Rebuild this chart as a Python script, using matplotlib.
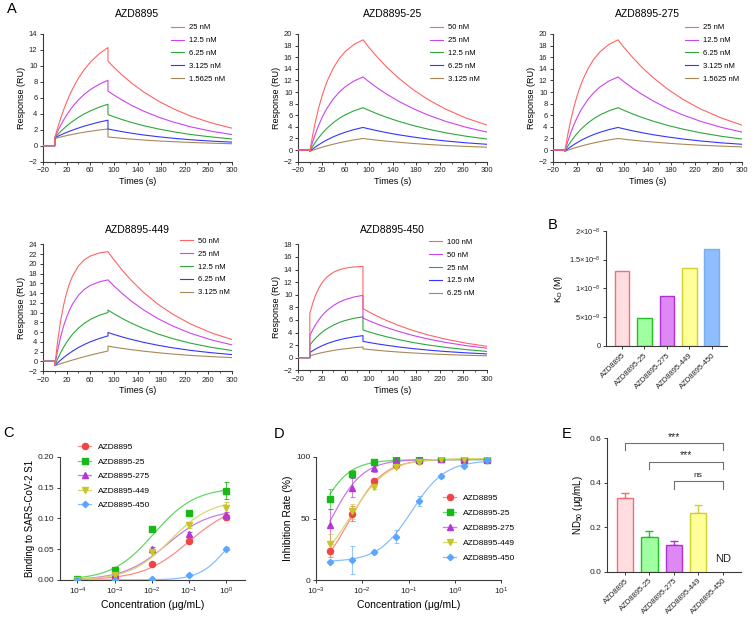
import numpy as np
import matplotlib
matplotlib.use("Agg")
import matplotlib.pyplot as plt
from matplotlib.lines import Line2D
from matplotlib.ticker import NullLocator, FixedFormatter, FixedLocator

plt.rcParams['font.family'] = ['Liberation Sans', 'DejaVu Sans']
plt.rcParams['mathtext.fontset'] = 'custom'
plt.rcParams['mathtext.rm'] = 'Liberation Sans'
plt.rcParams['mathtext.it'] = 'Liberation Sans:italic'
plt.rcParams['mathtext.bf'] = 'Liberation Sans:bold'
plt.rcParams['mathtext.default'] = 'regular'
plt.rcParams['axes.linewidth'] = 0.8

W, H = 754, 623

# ---------------- A: SPR sensorgrams ----------------
T_ASSOC = [0, 5, 10, 15, 20, 25, 30, 40, 50, 60, 75, 90]
T_DISS = [90, 100, 115, 130, 150, 175, 200, 230, 265, 300]

spr_titles = ['AZD8895', 'AZD8895-25', 'AZD8895-275', 'AZD8895-449', 'AZD8895-450']
spr_labels = [
    ['25 nM', '12.5 nM', '6.25 nM', '3.125 nM', '1.5625 nM'],
    ['50 nM', '25 nM', '12.5 nM', '6.25 nM', '3.125 nM'],
    ['25 nM', '12.5 nM', '6.25 nM', '3.125 nM', '1.5625 nM'],
    ['50 nM', '25 nM', '12.5 nM', '6.25 nM', '3.125 nM'],
    ['100 nM', '50 nM', '25 nM', '12.5 nM', '6.25 nM'],
]
spr_ytop = [14, 20, 20, 24, 18]

azd8895_assoc = [
    [1.0, 2.29, 3.45, 4.51, 5.46, 6.33, 7.11, 8.46, 9.56, 10.46, 11.52, 12.3],
    [1.0, 1.82, 2.56, 3.24, 3.84, 4.39, 4.89, 5.75, 6.45, 7.03, 7.70, 8.2],
    [1.0, 1.41, 1.79, 2.14, 2.47, 2.77, 3.05, 3.56, 3.99, 4.36, 4.83, 5.2],
    [1.0, 1.18, 1.35, 1.52, 1.67, 1.82, 1.96, 2.22, 2.46, 2.67, 2.96, 3.2],
    [0.9, 1.00, 1.09, 1.18, 1.27, 1.35, 1.42, 1.57, 1.70, 1.81, 1.97, 2.1],
]
azd8895_diss = [
    [10.6, 9.83, 8.79, 7.85, 6.76, 5.61, 4.65, 3.71, 2.86, 2.2],
    [6.85, 6.35, 5.67, 5.06, 4.35, 3.60, 2.98, 2.37, 1.82, 1.4],
    [3.9, 3.63, 3.25, 2.92, 2.52, 2.11, 1.76, 1.41, 1.10, 0.85],
    [2.1, 1.95, 1.75, 1.57, 1.35, 1.13, 0.94, 0.75, 0.58, 0.45],
    [1.1, 1.03, 0.92, 0.83, 0.72, 0.60, 0.51, 0.41, 0.32, 0.25],
]
azd25_assoc = [
    [-0.2, 2.67, 5.14, 7.26, 9.09, 10.66, 12.02, 14.18, 15.79, 16.98, 18.21, 19.0],
    [-0.2, 1.48, 2.97, 4.27, 5.43, 6.45, 7.35, 8.84, 10.01, 10.92, 11.91, 12.6],
    [-0.2, 0.66, 1.43, 2.13, 2.76, 3.34, 3.85, 4.75, 5.48, 6.08, 6.78, 7.3],
    [-0.2, 0.20, 0.57, 0.92, 1.23, 1.53, 1.81, 2.30, 2.72, 3.08, 3.54, 3.9],
    [-0.2, -0.02, 0.15, 0.32, 0.47, 0.62, 0.76, 1.02, 1.26, 1.47, 1.76, 2.0],
]
azd25_diss = [
    [19.0, 17.70, 15.92, 14.31, 12.43, 10.41, 8.72, 7.05, 5.51, 4.3],
    [12.6, 11.79, 10.66, 9.65, 8.44, 7.14, 6.05, 4.95, 3.92, 3.1],
    [7.3, 6.85, 6.22, 5.65, 4.97, 4.23, 3.61, 2.98, 2.38, 1.9],
    [3.9, 3.66, 3.32, 3.01, 2.64, 2.25, 1.91, 1.57, 1.25, 1.0],
    [2.0, 1.87, 1.70, 1.54, 1.35, 1.14, 0.97, 0.79, 0.63, 0.5],
]
azd275_assoc = [
    [-0.2, 2.65, 5.12, 7.24, 9.08, 10.65, 12.01, 14.17, 15.79, 16.98, 18.22, 19.0],
    [-0.2, 1.47, 2.96, 4.26, 5.42, 6.44, 7.34, 8.83, 10.0, 10.92, 11.91, 12.6],
    [-0.2, 0.66, 1.43, 2.13, 2.76, 3.34, 3.85, 4.75, 5.48, 6.08, 6.78, 7.3],
    [-0.2, 0.20, 0.57, 0.92, 1.23, 1.53, 1.81, 2.30, 2.72, 3.08, 3.54, 3.9],
    [-0.2, -0.02, 0.15, 0.32, 0.47, 0.62, 0.76, 1.02, 1.26, 1.47, 1.76, 2.0],
]
azd275_diss = [
    [19.0, 17.71, 15.94, 14.33, 12.45, 10.43, 8.74, 7.07, 5.53, 4.3],
    [12.6, 11.79, 10.66, 9.65, 8.44, 7.14, 6.05, 4.95, 3.92, 3.1],
    [7.3, 6.85, 6.22, 5.65, 4.97, 4.23, 3.61, 2.98, 2.38, 1.9],
    [3.9, 3.66, 3.32, 3.01, 2.64, 2.25, 1.91, 1.57, 1.25, 1.0],
    [2.0, 1.87, 1.71, 1.56, 1.38, 1.18, 1.01, 0.84, 0.68, 0.55],
]
azd449_assoc = [
    [-0.9, 4.33, 8.41, 11.58, 14.06, 15.98, 17.48, 19.56, 20.82, 21.59, 22.21, 22.5],
    [-0.9, 2.38, 5.07, 7.26, 9.07, 10.54, 11.74, 13.54, 14.75, 15.55, 16.29, 16.7],
    [-0.9, 0.53, 1.80, 2.91, 3.90, 4.76, 5.53, 6.80, 7.79, 8.57, 9.42, 10.0],
    [-0.9, -0.30, 0.25, 0.76, 1.23, 1.67, 2.08, 2.82, 3.44, 3.99, 4.66, 5.2],
    [-0.9, -0.70, -0.50, -0.30, -0.11, 0.07, 0.25, 0.60, 0.93, 1.25, 1.69, 2.1],
]
azd449_diss = [
    [22.5, 20.83, 18.56, 16.53, 14.16, 11.68, 9.63, 7.64, 5.83, 4.45],
    [16.7, 15.47, 13.80, 12.30, 10.56, 8.72, 7.21, 5.73, 4.39, 3.36],
    [10.5, 9.75, 8.72, 7.80, 6.72, 5.58, 4.63, 3.70, 2.85, 2.2],
    [5.9, 5.50, 4.96, 4.47, 3.89, 3.27, 2.75, 2.23, 1.75, 1.37],
    [3.1, 2.90, 2.62, 2.37, 2.07, 1.75, 1.47, 1.20, 0.95, 0.75],
]
azd450_assoc = [
    [7.0, 8.68, 9.98, 11.0, 11.79, 12.41, 12.89, 13.56, 13.96, 14.21, 14.41, 14.5],
    [3.5, 4.46, 5.28, 5.99, 6.60, 7.12, 7.57, 8.29, 8.83, 9.23, 9.64, 9.9],
    [2.0, 2.59, 3.11, 3.57, 3.98, 4.34, 4.65, 5.18, 5.59, 5.91, 6.26, 6.5],
    [0.8, 1.11, 1.39, 1.64, 1.87, 2.07, 2.26, 2.58, 2.84, 3.06, 3.31, 3.5],
    [0.3, 0.44, 0.56, 0.68, 0.79, 0.89, 0.98, 1.15, 1.30, 1.42, 1.58, 1.7],
]
azd450_diss = [
    [7.8, 7.27, 6.55, 5.90, 5.13, 4.31, 3.62, 2.94, 2.30, 1.8],
    [6.3, 5.88, 5.31, 4.79, 4.18, 3.52, 2.97, 2.42, 1.91, 1.5],
    [4.4, 4.10, 3.69, 3.32, 2.88, 2.41, 2.02, 1.64, 1.28, 1.0],
    [2.6, 2.42, 2.18, 1.97, 1.71, 1.44, 1.21, 0.98, 0.77, 0.6],
    [1.4, 1.30, 1.17, 1.04, 0.90, 0.75, 0.62, 0.50, 0.39, 0.3],
]
spr_assoc = [azd8895_assoc, azd25_assoc, azd275_assoc, azd449_assoc, azd450_assoc]
spr_diss = [azd8895_diss, azd25_diss, azd275_diss, azd449_diss, azd450_diss]
SPR_COLORS = ['#FF6464', '#CC44EE', '#2EA83A', '#3535FF', '#A8875A']

# ---------------- B: KD ----------------
names = ['AZD8895', 'AZD8895-25', 'AZD8895-275', 'AZD8895-449', 'AZD8895-450']
kd = [1.30e-8, 0.48e-8, 0.86e-8, 1.36e-8, 1.69e-8]
BAR_FILL = ['#FFDDE0', '#A0FFA0', '#DD88F5', '#FFFF99', '#8FBDFF']
BAR_EDGE = ['#F07070', '#22C022', '#B030D0', '#D0D030', '#78AEF2']

# ---------------- C: ELISA binding ----------------
c_conc = [1e-4, 1e-3, 1e-2, 1e-1, 1]
c_vals = [
    [0.000, 0.004, 0.026, 0.064, 0.102],
    [0.001, 0.016, 0.083, 0.108, 0.145],
    [0.000, 0.009, 0.051, 0.075, 0.105],
    [0.000, 0.008, 0.045, 0.089, 0.116],
    [0.000, 0.000, 0.001, 0.008, 0.051],
]
c_err = [
    [0.000, 0.001, 0.002, 0.003, 0.004],
    [0.001, 0.002, 0.002, 0.003, 0.014],
    [0.000, 0.001, 0.003, 0.003, 0.006],
    [0.000, 0.001, 0.002, 0.004, 0.010],
    [0.000, 0.000, 0.001, 0.001, 0.002],
]
# 4PL fit parameters
c_bottom = [0, 0, 0, 0, 0]
c_top = [0.125, 0.15, 0.115, 0.13, 0.10]
c_logec50 = [-1.0, -1.95, -1.6, -1.5, 0.0]
c_hill = [0.7, 0.78, 0.75, 0.8, 1.2]

# ---------------- D: neutralization ----------------
d_conc = [0.002, 0.006, 0.018, 0.055, 0.167, 0.51, 1.58, 4.9]
d_vals = [
    [24, 54, 80.5, 93, 96.5, 98, 97.6, 97.6],
    [66, 86, 95.5, 97.3, 98, 98.3, 97.3, 97.3],
    [45, 75, 90.5, 96.8, 97.5, 98, 98, 98],
    [29.5, 56, 75.5, 92, 96, 98, 98.5, 98.5],
    [15, 16.5, 22.5, 35.3, 64, 84, 92.7, 97],
]
d_err = [
    [5, 6, 2, 1, 1, 1, 1, 1],
    [8, 3, 1, 1, 1, 1, 1, 1],
    [13, 8, 3, 1, 1, 1, 1, 1],
    [8, 6, 2, 1, 1, 1, 1, 1],
    [1, 11, 1, 5, 4, 1, 1, 1],
]
d_bottom = [0, 0, 0, 5, 15]
d_top = [97.8, 97.6, 97.8, 98.5, 97]
d_logec50 = [-2.27, -3.0, -2.68, -2.25, -0.93]
d_hill = [1.2, 1.3, 1.25, 1.1, 1.2]

# ---------------- E: ND50 ----------------
nd50 = [0.33, 0.155, 0.12, 0.265]
nd50_err = [0.026, 0.026, 0.017, 0.035]

MARK_COL = ['#F04545', '#18B818', '#B535D5', '#C6C62A', '#5AA5FF']
FIT_COL = ['#FF8A8A', '#66D466', '#CB7AE6', '#D8D86E', '#86BEFF']
MARKERS = ['o', 's', '^', 'v', 'D']
MSIZE = [4.4, 4.4, 4.4, 4.4, 3.2]

fig = plt.figure(figsize=(W / 100, H / 100), dpi=100)


def axes_px(left, top, right, bottom):
    return fig.add_axes([left / W, 1 - bottom / H, (right - left) / W, (bottom - top) / H])


def prism(ax, fs=5.5):
    for s in ('top', 'right'):
        ax.spines[s].set_visible(False)
    for s in ('left', 'bottom'):
        ax.spines[s].set_color('#3a3a3a')
    ax.tick_params(direction='out', length=2.5, width=0.7, labelsize=fs, pad=1.5,
                   colors='#3a3a3a', labelcolor='#222222')
    ax.tick_params(which='minor', direction='out', length=1.6, width=0.6, colors='#3a3a3a')


def four_pl(x, bottom, top, logec50, hill):
    return bottom + (top - bottom) / (1 + 10 ** (hill * (logec50 - np.log10(x))))


# A panels: (left, top, right, bottom) in px, legend anchor, title pad
spr_boxes = [(43, 34, 232, 161.7), (298, 34, 487, 161.7), (553, 34, 742, 161.7),
             (43, 244.3, 232, 371), (298, 244.3, 487, 370.3)]
spr_leg = [(171, 24), (430, 24), (685, 24), (180, 237.5), (429, 238.5)]
spr_pad = [12.5, 12.5, 12.5, 8.4, 8.4]

for k in range(5):
    ax = axes_px(*spr_boxes[k])
    prism(ax)
    handles = []
    for i in range(5):
        t = [-20, 0] + T_ASSOC + T_DISS
        y = [0, 0] + spr_assoc[k][i] + spr_diss[k][i]
        h, = ax.plot(t, y, color=SPR_COLORS[i], lw=0.8, zorder=10 - i)
        handles.append(h)
    ax.set_xlim(-20, 300)
    ax.set_ylim(-2, spr_ytop[k])
    ax.set_xticks(range(-20, 301, 40))
    ax.set_xticks(range(0, 300, 40), minor=True)
    ax.set_yticks(range(-2, spr_ytop[k] + 1, 2))
    ax.set_title(spr_titles[k], fontsize=7.5, pad=spr_pad[k])
    ax.set_xlabel('Times (s)', fontsize=6.5, labelpad=2)
    ax.set_ylabel('Response (RU)', fontsize=6.5, labelpad=2)
    lx, ly = spr_leg[k]
    ax.legend(handles, spr_labels[k], loc='upper left', bbox_to_anchor=(lx / W, 1 - ly / H),
              bbox_transform=fig.transFigure, frameon=False, fontsize=5.5, handlelength=1.7,
              handletextpad=0.7, labelspacing=0.72, borderpad=0, borderaxespad=0)

# B
ax = axes_px(606, 230.7, 727, 346)
prism(ax)
xb = np.arange(len(names))
ax.bar(xb, kd, width=0.65, color=BAR_FILL, edgecolor=BAR_EDGE, linewidth=1.0)
ax.set_xlim(-0.71, 4.68)
ax.set_ylim(0, 2e-8)
ax.yaxis.set_major_locator(FixedLocator([0, 5e-9, 1e-8, 1.5e-8, 2e-8]))
ax.yaxis.set_major_formatter(FixedFormatter(['0', '5×10$^{-9}$', '1×10$^{-8}$',
                                             '1.5×10$^{-8}$', '2×10$^{-8}$']))
ax.set_xticks(xb)
ax.set_xticklabels(names, rotation=45, ha='right', rotation_mode='anchor', fontsize=5.5)
ax.set_ylabel('K$_D$ (M)', fontsize=6.5, labelpad=3)

# C
ax = axes_px(60, 456.7, 245, 580)
prism(ax, fs=6)
ax.set_xscale('log')
xs = np.logspace(-4, 0, 200)
handles = []
for i in range(5):
    ax.plot(xs, four_pl(xs, c_bottom[i], c_top[i], c_logec50[i], c_hill[i]),
            color=FIT_COL[i], lw=0.9, zorder=2)
    ax.errorbar(c_conc, c_vals[i], yerr=c_err[i], fmt='none', ecolor=MARK_COL[i],
                elinewidth=0.8, capsize=1.8, capthick=0.8, alpha=0.8, zorder=3)
    ax.plot(c_conc, c_vals[i], MARKERS[i], color=MARK_COL[i], ms=MSIZE[i], zorder=4)
    handles.append(Line2D([], [], color=FIT_COL[i], lw=0.9, marker=MARKERS[i],
                          mfc=MARK_COL[i], mec=MARK_COL[i], ms=MSIZE[i]))
ax.set_xlim(10 ** -4.47, 10 ** 0.5)
ax.set_ylim(0, 0.2)
ax.set_xticks(c_conc)
ax.xaxis.set_minor_locator(NullLocator())
ax.set_yticks([0, 0.05, 0.10, 0.15, 0.20])
ax.set_yticklabels(['0.00', '0.05', '0.10', '0.15', '0.20'])
ax.set_xlabel('Concentration (μg/mL)', fontsize=7.5, labelpad=2)
ax.set_ylabel('Binding to SARS-CoV-2 S1', fontsize=7, labelpad=2)
ax.legend(handles, names, loc='upper left', bbox_to_anchor=(78 / W, 1 - 443.5 / H),
          bbox_transform=fig.transFigure, frameon=False, fontsize=6, handlelength=1.6,
          handletextpad=0.8, labelspacing=0.8, borderpad=0, borderaxespad=0)

# D
ax = axes_px(316, 456.7, 501, 580.3)
prism(ax, fs=6)
ax.set_xscale('log')
xs = np.logspace(np.log10(d_conc[0]), np.log10(d_conc[-1]), 200)
handles = []
for i in range(5):
    ax.plot(xs, four_pl(xs, d_bottom[i], d_top[i], d_logec50[i], d_hill[i]),
            color=FIT_COL[i], lw=0.9, zorder=2)
    ax.errorbar(d_conc, d_vals[i], yerr=d_err[i], fmt='none', ecolor=MARK_COL[i],
                elinewidth=0.8, capsize=1.8, capthick=0.8, alpha=0.6, zorder=3)
    ax.plot(d_conc, d_vals[i], MARKERS[i], color=MARK_COL[i], ms=MSIZE[i], zorder=4)
    handles.append(Line2D([], [], color=FIT_COL[i], lw=0.9, marker=MARKERS[i],
                          mfc=MARK_COL[i], mec=MARK_COL[i], ms=MSIZE[i]))
ax.set_xlim(1e-3, 1e1)
ax.set_ylim(0, 100)
ax.set_xticks([1e-3, 1e-2, 1e-1, 1e0, 1e1])
ax.xaxis.set_minor_locator(NullLocator())
ax.set_yticks([0, 50, 100])
ax.set_xlabel('Concentration (μg/mL)', fontsize=7.5, labelpad=2)
ax.set_ylabel('Inhibition Rate (%)', fontsize=7.5, labelpad=2)
ax.legend(handles, names, loc='upper left', bbox_to_anchor=(443 / W, 1 - 494 / H),
          bbox_transform=fig.transFigure, frameon=False, fontsize=6, handlelength=1.6,
          handletextpad=0.8, labelspacing=0.85, borderpad=0, borderaxespad=0)

# E
ax = axes_px(607, 438.3, 741, 571.7)
prism(ax, fs=6)
xe = np.arange(len(names))
ax.bar(xe[:4], nd50, width=0.66, color=BAR_FILL[:4], edgecolor=BAR_EDGE[:4], linewidth=1.0,
       zorder=3)
for i in range(4):
    ax.errorbar(xe[i], nd50[i], yerr=[[0], [nd50_err[i]]], fmt='none', ecolor=BAR_EDGE[i],
                elinewidth=1.0, capsize=3, capthick=1.0, zorder=2)
ax.text(4, 0.057, 'ND', ha='center', va='center', fontsize=8, color='#222222')
brackets = [(0, 0.547, 0.58, '***', 0.585), (1, 0.46, 0.495, '***', 0.50),
            (2, 0.372, 0.41, 'ns', 0.418)]
for x0, ylo, yhi, lab, ytxt in brackets:
    ax.plot([x0, x0, 4, 4], [ylo, yhi, yhi, ylo], color='#707070', lw=0.8, clip_on=False)
    ax.text((x0 + 4) / 2, ytxt, lab, ha='center', va='bottom', fontsize=7.5 if lab != 'ns' else 6,
            color='#222222')
ax.set_xlim(-0.74, 4.75)
ax.set_ylim(0, 0.6)
ax.set_yticks([0, 0.2, 0.4, 0.6])
ax.set_yticklabels(['0.0', '0.2', '0.4', '0.6'])
ax.set_xticks(xe)
ax.set_xticklabels(names, rotation=45, ha='right', rotation_mode='anchor', fontsize=5.5)
ax.set_ylabel('ND$_{50}$ (μg/mL)', fontsize=7, labelpad=3)

# panel letters
for letter, x, y in [('A', 7, 13.3), ('B', 548, 229.3), ('C', 3, 437.3), ('D', 274, 438.3),
                     ('E', 562, 438.3)]:
    fig.text(x / W, 1 - y / H, letter, fontsize=10.5, va='baseline', ha='left')

fig.savefig('out.png', dpi=100)
